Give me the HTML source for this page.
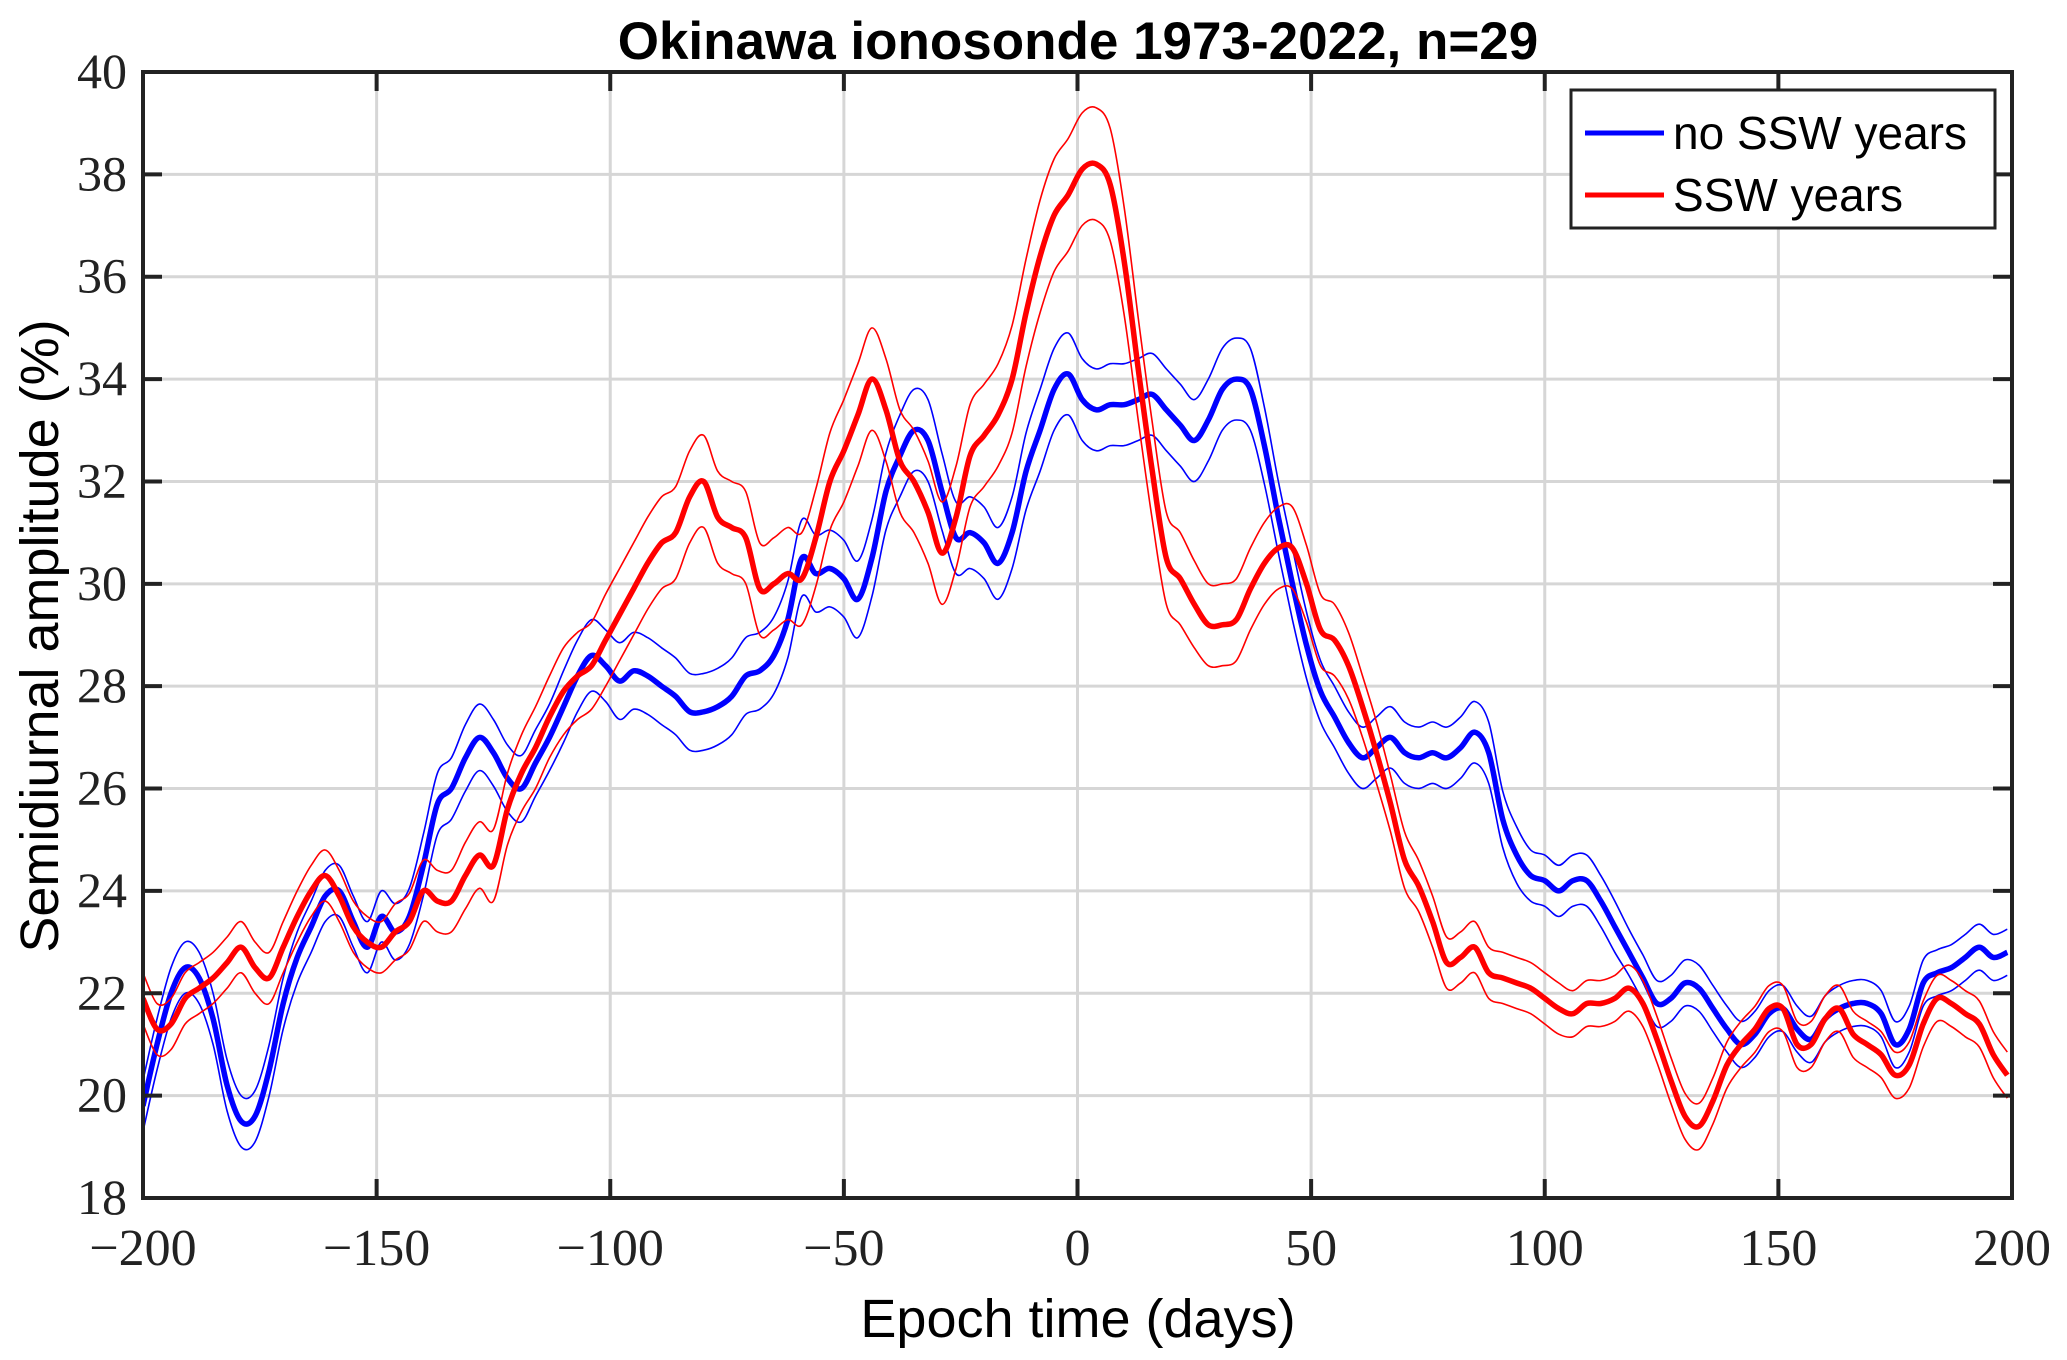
<!DOCTYPE html>
<html><head><meta charset="utf-8"><style>
html,body{margin:0;padding:0;background:#fff;}
svg{display:block;}
</style></head><body>
<svg id="chart" width="2067" height="1360" viewBox="0 0 2067 1360" xmlns="http://www.w3.org/2000/svg">
<rect width="2067" height="1360" fill="#fff"/>
<g id="grid"></g>
<g id="series"></g>
<g id="axes"></g>
<text x="1078" y="59" text-anchor="middle" font-family="Liberation Sans, sans-serif" font-weight="bold" font-size="53">Okinawa ionosonde 1973-2022, n=29</text>
<text x="1078" y="1337" text-anchor="middle" font-family="Liberation Sans, sans-serif" font-size="54">Epoch time (days)</text>
<text transform="translate(58,636) rotate(-90)" text-anchor="middle" font-family="Liberation Sans, sans-serif" font-size="54">Semidiurnal amplitude (%)</text>
<g>
<rect x="1571" y="90" width="424" height="138" fill="#fff" stroke="#222" stroke-width="3"/>
<line x1="1585" y1="133" x2="1664" y2="133" stroke="#0000ff" stroke-width="5"/>
<text x="1673" y="149" font-family="Liberation Sans, sans-serif" font-size="46">no SSW years</text>
<line x1="1585" y1="195" x2="1664" y2="195" stroke="#ff0000" stroke-width="5"/>
<text x="1673" y="211" font-family="Liberation Sans, sans-serif" font-size="46">SSW years</text>
</g>
</svg>
<script>
const days = [-200,-197,-194,-191,-188,-185,-182,-179,-176,-173,-170,-167,-164,-161,-158,-155,-152,-149,-146,-143,-140,-137,-134,-131,-128,-125,-122,-119,-116,-113,-110,-107,-104,-101,-98,-95,-92,-89,-86,-83,-80,-77,-74,-71,-68,-65,-62,-59,-56,-53,-50,-47,-44,-41,-38,-35,-32,-29,-26,-23,-20,-17,-14,-11,-8,-5,-2,1,4,7,10,13,16,19,22,25,28,31,34,37,40,43,46,49,52,55,58,61,64,67,70,73,76,79,82,85,88,91,94,97,100,103,106,109,112,115,118,121,124,127,130,133,136,139,142,145,148,151,154,157,160,163,166,169,172,175,178,181,184,187,190,193,196,199];
const noSSW = [19.8,21,22,22.5,22.3,21.5,20.2,19.5,19.6,20.5,21.8,22.7,23.3,23.9,24.0,23.4,22.9,23.5,23.2,23.5,24.5,25.7,26.0,26.6,27.0,26.7,26.2,26.0,26.5,27.0,27.6,28.2,28.6,28.4,28.1,28.3,28.2,28.0,27.8,27.5,27.5,27.6,27.8,28.2,28.3,28.6,29.3,30.5,30.2,30.3,30.1,29.7,30.5,31.8,32.5,33.0,32.8,31.8,30.9,31.0,30.8,30.4,31.0,32.2,33.0,33.8,34.1,33.6,33.4,33.5,33.5,33.6,33.7,33.4,33.1,32.8,33.2,33.8,34.0,33.8,32.7,31.3,30.0,28.8,27.9,27.4,26.9,26.6,26.8,27.0,26.7,26.6,26.7,26.6,26.8,27.1,26.7,25.4,24.7,24.3,24.2,24.0,24.2,24.2,23.8,23.3,22.8,22.3,21.8,21.9,22.2,22.1,21.7,21.3,21.0,21.2,21.6,21.7,21.3,21.1,21.5,21.7,21.8,21.8,21.6,21.0,21.3,22.2,22.4,22.5,22.7,22.9,22.7,22.8];
const noSSWerr = [0.5,0.5,0.5,0.5,0.5,0.5,0.5,0.5,0.5,0.5,0.5,0.5,0.5,0.5,0.5,0.5,0.5,0.5,0.55,0.55,0.6,0.6,0.6,0.65,0.65,0.65,0.65,0.65,0.65,0.65,0.7,0.7,0.7,0.7,0.75,0.75,0.75,0.75,0.75,0.75,0.75,0.75,0.75,0.75,0.75,0.75,0.75,0.75,0.75,0.75,0.75,0.75,0.75,0.75,0.8,0.8,0.8,0.75,0.7,0.7,0.7,0.7,0.7,0.75,0.8,0.8,0.8,0.8,0.8,0.8,0.8,0.8,0.8,0.8,0.8,0.8,0.8,0.8,0.8,0.8,0.75,0.7,0.7,0.65,0.6,0.6,0.6,0.6,0.6,0.6,0.6,0.6,0.6,0.6,0.6,0.6,0.6,0.55,0.55,0.5,0.5,0.5,0.5,0.5,0.5,0.5,0.45,0.45,0.45,0.45,0.45,0.45,0.45,0.45,0.45,0.45,0.45,0.45,0.45,0.45,0.45,0.45,0.45,0.45,0.45,0.45,0.45,0.45,0.45,0.45,0.45,0.45,0.45,0.45];
const ssw = [21.9,21.3,21.4,21.9,22.1,22.3,22.6,22.9,22.5,22.3,22.9,23.5,24.0,24.3,23.9,23.3,23.0,22.9,23.2,23.4,24.0,23.8,23.8,24.3,24.7,24.5,25.6,26.3,26.8,27.4,27.9,28.2,28.4,28.9,29.4,29.9,30.4,30.8,31.0,31.7,32.0,31.3,31.1,30.9,29.9,30.0,30.2,30.1,30.9,32.0,32.6,33.3,34.0,33.4,32.4,32.0,31.4,30.6,31.3,32.5,32.9,33.3,34.0,35.3,36.4,37.2,37.6,38.1,38.2,37.8,36.3,34.2,32.2,30.5,30.1,29.6,29.2,29.2,29.3,29.9,30.4,30.7,30.7,30.0,29.1,28.9,28.4,27.6,26.7,25.7,24.6,24.1,23.4,22.6,22.7,22.9,22.4,22.3,22.2,22.1,21.9,21.7,21.6,21.8,21.8,21.9,22.1,21.8,21.1,20.3,19.6,19.4,19.9,20.6,21.0,21.3,21.7,21.7,21.0,21.0,21.5,21.7,21.2,21.0,20.8,20.4,20.6,21.4,21.9,21.8,21.6,21.4,20.8,20.4];
const sswErr = [0.5,0.5,0.5,0.5,0.5,0.5,0.5,0.5,0.5,0.5,0.5,0.5,0.5,0.5,0.5,0.5,0.5,0.5,0.55,0.55,0.6,0.6,0.6,0.65,0.65,0.7,0.7,0.75,0.8,0.8,0.85,0.85,0.85,0.9,0.9,0.9,0.9,0.9,0.9,0.9,0.9,0.9,0.9,0.9,0.9,0.9,0.9,0.9,0.95,0.95,1.0,1.0,1.0,1.0,1.0,1.0,1.0,1.0,1.0,1.0,1.0,1.0,1.05,1.05,1.1,1.1,1.1,1.1,1.1,1.1,1.05,1.0,0.95,0.9,0.9,0.85,0.8,0.8,0.8,0.8,0.8,0.8,0.8,0.75,0.7,0.7,0.65,0.6,0.6,0.55,0.55,0.5,0.5,0.5,0.5,0.5,0.5,0.5,0.5,0.5,0.5,0.5,0.45,0.45,0.45,0.45,0.45,0.45,0.45,0.45,0.45,0.45,0.45,0.45,0.45,0.45,0.45,0.45,0.45,0.45,0.45,0.45,0.45,0.45,0.45,0.45,0.45,0.45,0.45,0.45,0.45,0.45,0.45,0.45];
const xTicks = [-200,-150,-100,-50,0,50,100,150,200];
const xTickLabels = ["\u2212200","\u2212150","\u2212100","\u221250","0","50","100","150","200"];
const yTicks = [18,20,22,24,26,28,30,32,34,36,38,40];
const yTickLabels = ["18","20","22","24","26","28","30","32","34","36","38","40"];

const L=143,R=2012,T=72,B=1198;
const X=d=>L+(d+200)/400*(R-L);
const Y=v=>B-(v-18)/22*(B-T);
const NS='http://www.w3.org/2000/svg';
function mk(tag,parent,attrs){const e=document.createElementNS(NS,tag);for(const k in attrs)e.setAttribute(k,attrs[k]);parent.appendChild(e);return e;}
function pathFrom(vals){
  const p=days.map((d,i)=>[X(d),Y(vals[i])]);
  let s='M'+p[0][0].toFixed(1)+','+p[0][1].toFixed(1);
  for(let i=0;i<p.length-1;i++){
    const p0=p[i-1]||p[i],p1=p[i],p2=p[i+1],p3=p[i+2]||p[i+1];
    const c1=[p1[0]+(p2[0]-p0[0])/6,p1[1]+(p2[1]-p0[1])/6];
    const c2=[p2[0]-(p3[0]-p1[0])/6,p2[1]-(p3[1]-p1[1])/6];
    s+='C'+c1[0].toFixed(1)+','+c1[1].toFixed(1)+' '+c2[0].toFixed(1)+','+c2[1].toFixed(1)+' '+p2[0].toFixed(1)+','+p2[1].toFixed(1);
  }
  return s;
}
const grid=document.getElementById('grid');
xTicks.forEach((t,i)=>{
  if(i>0&&i<xTicks.length-1){
    const g=mk('line',grid,{x1:X(t),x2:X(t),y1:T,y2:B,stroke:'#d6d6d6','stroke-width':3});
    
    
  }
});
yTicks.forEach((t,i)=>{
  if(i>0&&i<yTicks.length-1){
    const g=mk('line',grid,{x1:L,x2:R,y1:Y(t),y2:Y(t),stroke:'#d6d6d6','stroke-width':3});
    
    
  }
});
const series=document.getElementById('series');
const clip=mk('clipPath',series,{id:'clipArea'});mk('rect',clip,{x:L,y:T,width:R-L,height:B-T});
function drawSeries(vals,err,color,name){
  const up=vals.map((v,i)=>v+err[i]), lo=vals.map((v,i)=>v-err[i]);
  const a=mk('path',series,{d:pathFrom(up),fill:'none',stroke:color,'stroke-width':1.6,'clip-path':'url(#clipArea)'});
  
  
  const b=mk('path',series,{d:pathFrom(lo),fill:'none',stroke:color,'stroke-width':1.6,'clip-path':'url(#clipArea)'});
  
  
  const m=mk('path',series,{d:pathFrom(vals),fill:'none',stroke:color,'stroke-width':5.5,'stroke-linejoin':'round','clip-path':'url(#clipArea)'});
  
  
}
drawSeries(noSSW,noSSWerr,'#0000ff','no-ssw');
drawSeries(ssw,sswErr,'#ff0000','ssw');
const axes=document.getElementById('axes');
const box=mk('rect',axes,{x:L,y:T,width:R-L,height:B-T,fill:'none',stroke:'#222','stroke-width':4});


xTicks.forEach((t,i)=>{
  mk('line',axes,{x1:X(t),x2:X(t),y1:B,y2:B-19,stroke:'#222','stroke-width':4});
  mk('line',axes,{x1:X(t),x2:X(t),y1:T,y2:T+19,stroke:'#222','stroke-width':4});
  const tx=mk('text',axes,{x:X(t),y:1265,'text-anchor':'middle','font-family':'Liberation Serif, serif','font-size':52,fill:'#222'});
  tx.textContent=xTickLabels[i];
  
  
});
yTicks.forEach((t,i)=>{
  mk('line',axes,{x1:L,x2:L+19,y1:Y(t),y2:Y(t),stroke:'#222','stroke-width':4});
  mk('line',axes,{x1:R,x2:R-19,y1:Y(t),y2:Y(t),stroke:'#222','stroke-width':4});
  const tx=mk('text',axes,{x:127,y:Y(t)+16,'text-anchor':'end','font-family':'Liberation Serif, serif','font-size':50,fill:'#222'});
  tx.textContent=yTickLabels[i];
  
  
});
</script>
</body></html>
